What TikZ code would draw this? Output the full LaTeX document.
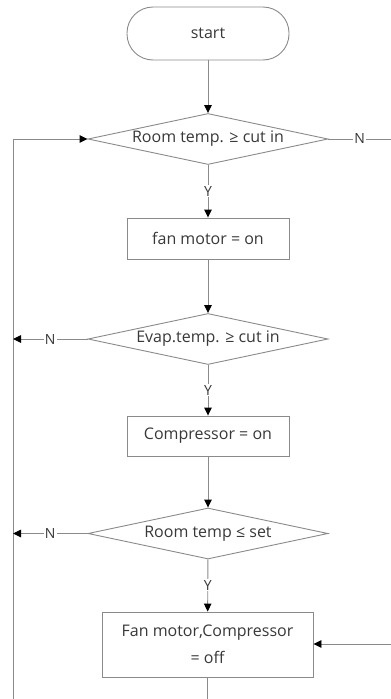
\documentclass[tikz,border=0pt]{standalone}
\usepackage{fontspec}
\setmainfont{Open Sans}
\usetikzlibrary{shapes.geometric,arrows.meta}
\definecolor{linegray}{HTML}{8A8A8A}
\definecolor{textgray}{HTML}{383838}
\begin{document}
\begin{tikzpicture}[x=1pt,y=-1pt,
  every node/.style={text=textgray,font=\fontsize{16}{19}\selectfont},
  termbox/.style={draw=linegray,line width=0.9pt,rectangle,rounded corners=26pt,minimum width=162pt,minimum height=53pt,inner sep=0pt},
  procbox/.style={draw=linegray,line width=0.9pt,rectangle,minimum width=162pt,minimum height=41pt,inner sep=0pt},
  decbox/.style={draw=linegray,line width=0.9pt,diamond,shape aspect=4.7,minimum width=240pt,minimum height=51pt,inner sep=0pt},
  conn/.style={draw=linegray,line width=0.9pt},
  arr/.style={conn,-{Triangle[length=8pt,width=7.5pt,color=black]}},
  lab/.style={fill=white,inner sep=1pt,font=\fontsize{14}{16}\selectfont}
]
\useasboundingbox (0,0) rectangle (391,699);
\node[termbox] (start) at (208,33.5) {start};
\node[decbox] (d1) at (208,139) {Room temp. ≥ cut in};
\node[procbox] (b1) at (208,238.5) {fan motor = on};
\node[decbox] (d2) at (208,339) {Evap.temp. ≥ cut in};
\node[procbox,minimum height=40pt] (b2) at (208,436) {Compressor = on};
\node[decbox] (d3) at (208,533.5) {Room temp ≤ set};
\node[procbox,minimum width=211pt,minimum height=65pt,align=center] (b3) at (207.5,644.5) {Fan motor,Compressor\\[8pt]= off};

\coordinate (bend) at (207.5,699);
\coordinate (lbot) at (13,699);
\coordinate (ltop) at (13,139);
\coordinate (l2) at (13,339);
\coordinate (l3) at (13,533.5);
\coordinate (r1) at (391,139);
\coordinate (r3) at (391,644);

\draw[arr] (start) -- (d1);
\draw[arr] (d1) -- node[lab] (y1) {Y} (b1);
\draw[arr] (b1) -- (d2);
\draw[arr] (d2) -- node[lab] (y2) {Y} (b2);
\draw[arr] (b2) -- (d3);
\draw[arr] (d3) -- node[lab] (y3) {Y} (b3);
\draw[conn] (b3) -- (bend);
\draw[arr] (lbot) -- (ltop) -- (d1.west);
\draw[arr] (d2.west) -- node[lab] (n2) {N} (l2);
\draw[arr] (d3.west) -- node[lab] (n3) {N} (l3);
\draw[conn] (d1.east) -- node[lab] (n1) {N} (r1);
\draw[arr] (r3) -- (b3.east |- r3);
\end{tikzpicture}
\end{document}
